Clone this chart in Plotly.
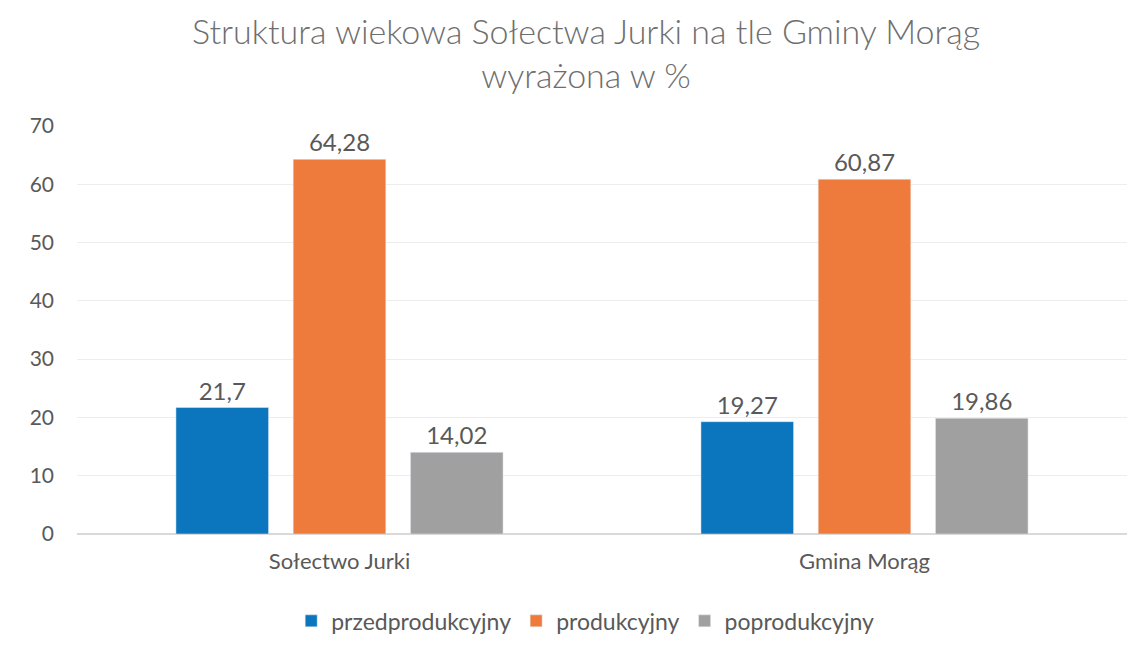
import plotly.graph_objects as go

categories = ["Sołectwo Jurki", "Gmina Morąg"]
series_names = ["przedprodukcyjny", "produkcyjny", "poprodukcyjny"]
przedprodukcyjny = [21.7, 19.27]
produkcyjny = [64.28, 60.87]
poprodukcyjny = [14.02, 19.86]
labels_przed = ["21,7", "19,27"]
labels_prod = ["64,28", "60,87"]
labels_popr = ["14,02", "19,86"]
y_ticks = [0, 10, 20, 30, 40, 50, 60, 70]

colors = ["#0B75BD", "#EE7A3B", "#A0A0A0"]
values = [przedprodukcyjny, produkcyjny, poprodukcyjny]
labels = [labels_przed, labels_prod, labels_popr]

FONT = "Lato"
TXT = "#595959"

fig = go.Figure()
for name, vals, lab, col in zip(series_names, values, labels, colors):
    fig.add_trace(go.Bar(
        x=categories, y=vals, name=name, marker_color=col,
        text=lab, textposition="outside", cliponaxis=False,
        textfont=dict(family=FONT, size=24, color=TXT),
    ))

fig.add_annotation(
    text="Struktura wiekowa Sołectwa Jurki na tle Gminy Morąg<br>wyrażona w %",
    xref="paper", yref="paper", x=0.485, y=1.18, xanchor="center", yanchor="middle",
    showarrow=False, align="center",
    font=dict(family=FONT, size=34, color="#6E6E6E", weight=300),
)

fig.update_layout(
    width=1131, height=648,
    paper_bgcolor="white", plot_bgcolor="white",
    margin=dict(l=69, r=12, t=118, b=122, autoexpand=False),
    barmode="group", bargap=0.33, bargroupgap=0.21,
    font=dict(family=FONT, color=TXT),
    legend=dict(
        orientation="h", x=0.484, xanchor="center", y=-0.213, yanchor="middle",
        font=dict(family=FONT, size=23, color=TXT),
        traceorder="normal",
    ),
)
fig.update_yaxes(
    range=[0, 70], tickvals=y_ticks, showgrid=True, gridcolor="#EDEDED",
    gridwidth=1, zeroline=True, zerolinecolor="#D9D9D9",
    tickfont=dict(family=FONT, size=21, color=TXT), ticks="", ticklen=0,
    ticklabelstandoff=22,
)
fig.update_xaxes(
    tickfont=dict(family=FONT, size=22, color=TXT), showline=False,
    ticklabelstandoff=12,
)
fig.write_html("out.html")
